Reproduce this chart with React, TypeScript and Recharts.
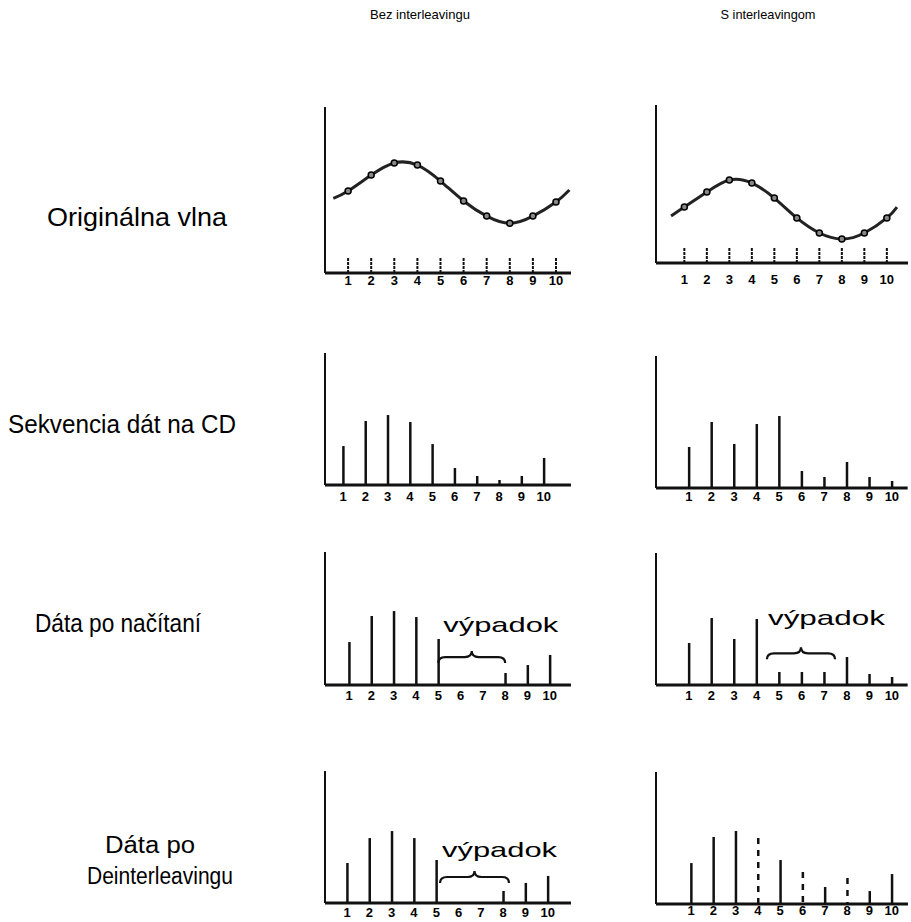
import { ComposedChart, Line, Bar, XAxis, YAxis, ReferenceArea } from 'recharts'

// sample positions 1..10 under every panel
const TICKS = [1, 2, 3, 4, 5, 6, 7, 8, 9, 10]

// Originálna vlna (curve start, 10 samples, curve end)
const waveLeftX = [0.36, 1, 2, 3, 4, 5, 6, 7, 8, 9, 10, 10.58]
const waveLeftY = [4.5, 4.94, 5.9, 6.63, 6.5, 5.54, 4.34, 3.43, 3.0, 3.43, 4.28, 5.0]
const waveRightX = [0.41, 1, 2, 3, 4, 5, 6, 7, 8, 9, 10, 10.45]
const waveRightY = [2.97, 3.54, 4.49, 5.25, 5.06, 4.11, 2.85, 1.9, 1.52, 1.9, 2.85, 3.54]

// Sekvencia dát na CD
const cdLeft = [29.5, 48.5, 53, 47.7, 31, 12.9, 6.8, 3.8, 6.8, 20.5]
const cdRight = [31, 50, 33.3, 48.5, 54.5, 12.9, 8.3, 19.7, 8.3, 5.3]

// Dáta po načítaní
const readLeft = [32.3, 51.9, 55.6, 51.1, 34.6, null, null, 9, 15, 22.6]
const readRight = [31.8, 50.8, 34.8, 50, 9.8, 9.8, 9.8, 21.2, 8.3, 6.1]

// Dáta po Deinterleavingu
const deintLeft = [30.3, 49.2, 54.5, 49.2, 32.6, null, null, 9.1, 15.2, 20.5]
const deintRight = [31, 50.8, 55.3, 50, 33.3, 24.2, 12.9, 19.7, 9.8, 22.7]
const deintRightDashed = [4, 6, 8]

const ROW_LABELS = ['Originálna vlna', 'Sekvencia dát na CD', 'Dáta po načítaní', 'Dáta po', 'Deinterleavingu']
const COL_LABELS = ['Bez interleavingu', 'S interleavingom']
const GAP_LABEL = 'výpadok'

const FONT = '"Liberation Sans", Arial, sans-serif'
const INK = '#111'

interface Geo {
  ax: number // y-axis x position on page
  top: number
  h: number
  d0: number
  d1: number
  s: number // px per unit
  m: number // tick label margin
}

interface Gap {
  from: number
  to: number
  level: number
  textX: number // offset of text from brace start
  textDy: number
  textW: number
}

const tickStyle = { fontSize: 13, fontWeight: 'bold', fill: '#000', fontFamily: FONT }

function WaveTick(props: any) {
  const { x, y, payload, margin } = props
  const axisY = y - margin
  return (
    <g>
      <line x1={x} x2={x} y1={axisY} y2={axisY - 16} stroke={INK} strokeWidth={2} strokeDasharray="3 1" />
      <text x={x} y={y} dy="0.71em" textAnchor="middle" {...tickStyle}>
        {payload.value}
      </text>
    </g>
  )
}

function axes(geo: Geo, yMax: number, tick: any) {
  return [
    <XAxis
      key="x"
      type="number"
      dataKey="x"
      domain={[geo.d0, geo.d1]}
      ticks={TICKS}
      interval={0}
      allowDataOverflow
      height={30}
      tickLine={false}
      tickSize={0}
      tickMargin={geo.m}
      axisLine={{ stroke: INK, strokeWidth: 3 }}
      tick={tick}
    />,
    <YAxis
      key="y"
      width={1}
      domain={[0, yMax]}
      tick={false}
      tickLine={false}
      axisLine={{ stroke: INK, strokeWidth: 2 }}
      allowDataOverflow
    />,
  ]
}

function WavePanel({ geo, xs, ys }: { geo: Geo; xs: number[]; ys: number[] }) {
  const data = xs.map((x, i) => ({ x, y: ys[i] }))
  const w = (geo.d1 - geo.d0) * geo.s
  const last = data.length - 1
  return (
    <div style={{ position: 'absolute', left: geo.ax - 2, top: geo.top - 2 }}>
      <ComposedChart width={w + 4} height={geo.h + 32} data={data} margin={{ top: 2, right: 2, bottom: 0, left: 1 }}>
        {axes(geo, 10, (p: any) => <WaveTick {...p} margin={geo.m} />)}
        <Line
          type="natural"
          dataKey="y"
          stroke="#222"
          strokeWidth={3}
          isAnimationActive={false}
          dot={(p: any) =>
            p.index === 0 || p.index === last ? (
              <g key={`d${p.index}`} />
            ) : (
              <circle key={`d${p.index}`} cx={p.cx} cy={p.cy} r={3} fill="#888" stroke="#000" strokeWidth={1.5} />
            )
          }
        />
      </ComposedChart>
    </div>
  )
}

function Brace(props: any, gap: Gap) {
  const { x, y, width, height } = props
  const cy = y + height / 2
  const x0 = x
  const x1 = x + width
  const xm = x + width / 2
  const d = `M ${x0} ${cy + 6} Q ${x0} ${cy} ${x0 + 7} ${cy} L ${xm - 7} ${cy} Q ${xm} ${cy} ${xm} ${cy - 6} Q ${xm} ${cy} ${xm + 7} ${cy} L ${x1 - 7} ${cy} Q ${x1} ${cy} ${x1} ${cy + 6}`
  return (
    <g>
      <path d={d} fill="none" stroke={INK} strokeWidth={2.2} />
      <text
        x={x0 + gap.textX}
        y={cy + gap.textDy}
        dy="0.35em"
        fontSize={20}
        fontFamily={FONT}
        fill="#000"
        textLength={gap.textW}
        lengthAdjust="spacingAndGlyphs"
      >
        {GAP_LABEL}
      </text>
    </g>
  )
}

function BarPanel({ geo, values, dashed = [], gap }: { geo: Geo; values: (number | null)[]; dashed?: number[]; gap?: Gap }) {
  const data = TICKS.map((x, i) => ({ x, v: values[i], dashed: dashed.includes(x) }))
  const w = (geo.d1 - geo.d0) * geo.s
  return (
    <div style={{ position: 'absolute', left: geo.ax - 2, top: geo.top - 2 }}>
      <ComposedChart width={w + 4} height={geo.h + 32} data={data} margin={{ top: 2, right: 2, bottom: 0, left: 1 }}>
        {axes(geo, 100, tickStyle)}
        <Bar
          dataKey="v"
          barSize={3}
          isAnimationActive={false}
          shape={(p: any) => {
            if (p.payload.v == null || !(p.height > 0)) return <g />
            const cx = p.x + p.width / 2
            return (
              <line
                x1={cx}
                x2={cx}
                y1={p.y}
                y2={p.y + p.height}
                stroke={INK}
                strokeWidth={2.5}
                strokeDasharray={p.payload.dashed ? '6 6' : undefined}
              />
            )
          }}
        />
        {gap && (
          <ReferenceArea
            x1={gap.from}
            x2={gap.to}
            y1={gap.level - 3}
            y2={gap.level + 3}
            shape={(p: any) => Brace(p, gap)}
          />
        )}
      </ComposedChart>
    </div>
  )
}

export default function App() {
  return (
    <div style={{ position: 'absolute', left: 0, top: 0, width: 911, height: 922, background: '#fff', overflow: 'hidden' }}>
      <svg width={911} height={922} style={{ position: 'absolute', left: 0, top: 0 }}>
        <g fontFamily={FONT} fill="#000">
          <text x={420} y={14} dy="0.35em" textAnchor="middle" fontSize={13} textLength={100} lengthAdjust="spacingAndGlyphs">{COL_LABELS[0]}</text>
          <text x={768} y={14} dy="0.35em" textAnchor="middle" fontSize={13} textLength={95} lengthAdjust="spacingAndGlyphs">{COL_LABELS[1]}</text>
          <text x={47} y={226} fontSize={25} textLength={180} lengthAdjust="spacingAndGlyphs">{ROW_LABELS[0]}</text>
          <text x={8} y={433} fontSize={25} textLength={228} lengthAdjust="spacingAndGlyphs">{ROW_LABELS[1]}</text>
          <text x={35} y={632} fontSize={25} textLength={166} lengthAdjust="spacingAndGlyphs">{ROW_LABELS[2]}</text>
          <text x={150} y={853} textAnchor="middle" fontSize={23} textLength={90} lengthAdjust="spacingAndGlyphs">{ROW_LABELS[3]}</text>
          <text x={160} y={884} textAnchor="middle" fontSize={23} textLength={146} lengthAdjust="spacingAndGlyphs">{ROW_LABELS[4]}</text>
        </g>
      </svg>

      <WavePanel geo={{ ax: 325, top: 107, h: 166, d0: 0, d1: 10.65, s: 23.1, m: 3 }} xs={waveLeftX} ys={waveLeftY} />
      <WavePanel geo={{ ax: 656, top: 105, h: 158, d0: -0.26, d1: 10.94, s: 22.5, m: 12 }} xs={waveRightX} ys={waveRightY} />

      <BarPanel geo={{ ax: 325, top: 353, h: 132, d0: 0.19, d1: 11.22, s: 22.3, m: 7 }} values={cdLeft} />
      <BarPanel geo={{ ax: 656, top: 356, h: 132, d0: -0.46, d1: 10.7, s: 22.55, m: 4 }} values={cdRight} />

      <BarPanel
        geo={{ ax: 325, top: 552, h: 133, d0: -0.08, d1: 10.95, s: 22.3, m: 6 }}
        values={readLeft}
        gap={{ from: 5.0, to: 8.0, level: 21, textX: 5, textDy: -32, textW: 115 }}
      />
      <BarPanel
        geo={{ ax: 656, top: 553, h: 132, d0: -0.46, d1: 10.7, s: 22.55, m: 6 }}
        values={readRight}
        gap={{ from: 4.46, to: 7.48, level: 24, textX: 1, textDy: -35, textW: 117 }}
      />

      <BarPanel
        geo={{ ax: 325, top: 771, h: 132, d0: 0.01, d1: 11.04, s: 22.3, m: 5 }}
        values={deintLeft}
        gap={{ from: 5.17, to: 8.26, level: 19.7, textX: 2, textDy: -27, textW: 115 }}
      />
      <BarPanel
        geo={{ ax: 656, top: 772, h: 132, d0: -0.57, d1: 10.73, s: 22.3, m: 2 }}
        values={deintRight}
        dashed={deintRightDashed}
      />
    </div>
  )
}
